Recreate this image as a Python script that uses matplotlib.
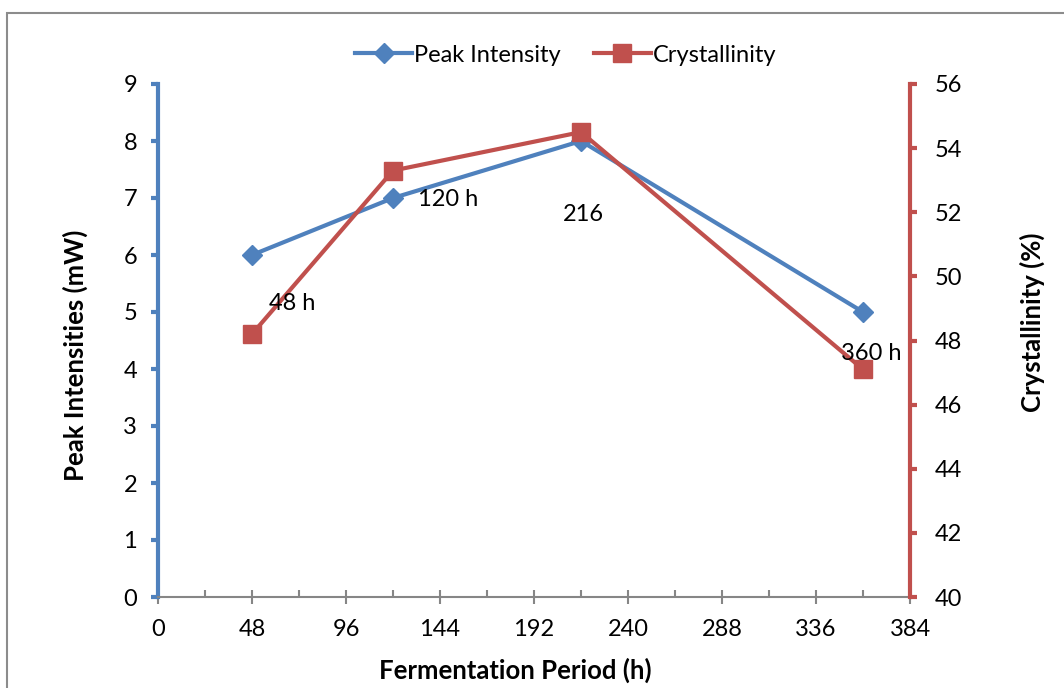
import matplotlib.pyplot as plt
from matplotlib.patches import Rectangle
from matplotlib.lines import Line2D
from matplotlib.ticker import MultipleLocator

plt.rcParams['font.family'] = ['Lato', 'DejaVu Sans']

# data
hours = [48, 120, 216, 360]
peak_intensity = [6, 7, 8, 5]
crystallinity = [48.2, 53.3, 54.5, 47.1]
point_labels = ['48 h', '120 h', '216', '360 h']
label_offsets = [(29, -35), (40, -1), (2, -53), (6, -30)]  # points

blue = '#4F81BD'
red = '#C0504D'
gray = '#868686'

fig = plt.figure(figsize=(10.64, 6.88), dpi=100)
W, H = 1064, 688

# outer chart border
fig.patches.append(Rectangle((7 / W, -0.05), 1.2, 1 - 13 / H + 0.05,
                             transform=fig.transFigure, fill=False,
                             edgecolor='#8c8c8c', lw=1.5))

ax = fig.add_axes([158 / W, 1 - 597 / H, (910 - 158) / W, (597 - 84) / H])
ax2 = ax.twinx()

ax.plot(hours, peak_intensity, color=blue, lw=3, marker='D', markersize=10,
        zorder=3)
ax2.plot(hours, crystallinity, color=red, lw=3, marker='s', markersize=13,
         zorder=3)

ax.set_xlim(0, 384)
ax.set_ylim(0, 9)
ax2.set_ylim(40, 56)
ax.xaxis.set_major_locator(MultipleLocator(48))
ax.xaxis.set_minor_locator(MultipleLocator(24))
ax.yaxis.set_major_locator(MultipleLocator(1))
ax2.yaxis.set_major_locator(MultipleLocator(2))

for a in (ax, ax2):
    for s in a.spines.values():
        s.set_visible(False)

ax.spines['bottom'].set_visible(True)
ax.spines['bottom'].set_color(gray)
ax.spines['bottom'].set_linewidth(1.5)
ax.spines['left'].set_visible(True)
ax.spines['left'].set_color(blue)
ax.spines['left'].set_linewidth(3)
ax2.spines['right'].set_visible(True)
ax2.spines['right'].set_color(red)
ax2.spines['right'].set_linewidth(3)

ax.tick_params(axis='x', which='major', direction='inout', length=10, width=1.5,
               color=gray, labelsize=17, pad=11)
ax.tick_params(axis='x', which='minor', direction='in', length=5, width=1.5,
               color=gray)
ax.tick_params(axis='y', direction='out', length=5, width=3, color=blue,
               labelsize=17, pad=10)
ax2.tick_params(axis='y', direction='out', length=5, width=3, color=red,
                labelsize=17, pad=13)

ax.set_xlabel('Fermentation Period (h)', fontsize=18.5, fontweight='bold')
ax.set_ylabel('Peak Intensities (mW)', fontsize=18.5, fontweight='bold')
ax2.set_ylabel('Crystallinity (%)', fontsize=18.5, fontweight='bold')
ax.xaxis.set_label_coords((515 - 158) / 752, -(670 - 597) / 513)
ax.yaxis.set_label_coords(-(158 - 75) / 752, (597 - 355) / 513)
ax2.yaxis.set_label_coords(1 + (1032 - 910) / 752, (597 - 322) / 513)
ax.xaxis.label.set_va('center')
ax.yaxis.label.set_va('center')
ax2.yaxis.label.set_va('center')

# data labels
for h, p, txt, off in zip(hours, peak_intensity, point_labels, label_offsets):
    ax2.annotate(txt, xy=(h, p), xycoords=ax.transData, xytext=off,
                 textcoords='offset points', ha='center', va='center',
                 fontsize=17, zorder=5)

handles = [Line2D([], [], color=blue, lw=3, marker='D', markersize=10),
           Line2D([], [], color=red, lw=3, marker='s', markersize=13)]
fig.legend(handles, ['Peak Intensity', 'Crystallinity'], loc='center',
           bbox_to_anchor=(566 / W, 1 - 55 / H), ncol=2, frameon=False,
           fontsize=17, handlelength=2.4, handletextpad=0.1, columnspacing=1.4)

fig.savefig('out.png', dpi=100)
